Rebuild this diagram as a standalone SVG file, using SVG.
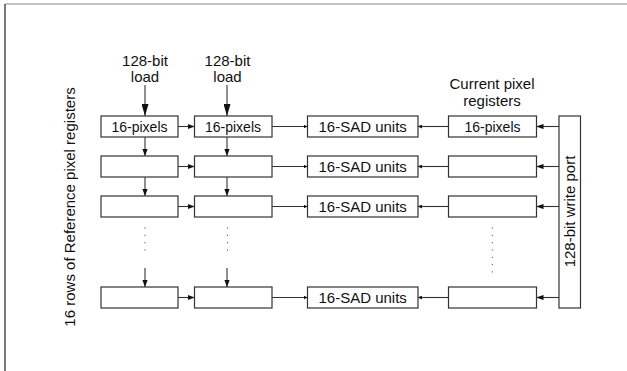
<svg xmlns="http://www.w3.org/2000/svg" width="627" height="371" viewBox="0 0 627 371">
<defs>
<style>
.box{fill:#fff;stroke:#333;stroke-width:1.2}
.ln{stroke:#333;stroke-width:1.1;fill:none}
.t{font-family:"Liberation Sans",Arial,sans-serif;font-size:15px;fill:#111;text-anchor:middle}
.t14{font-size:14px}
.dot{stroke:#555;stroke-width:1;stroke-dasharray:1.2 6.1;fill:none}
</style>
<marker id="big" markerUnits="userSpaceOnUse" markerWidth="12" markerHeight="7" refX="12" refY="3.5" orient="auto" viewBox="0 0 12 7">
<path d="M0,0 L12,3.5 L0,7 Z" fill="#111"/>
</marker>
<marker id="sm" markerUnits="userSpaceOnUse" markerWidth="7" markerHeight="5.2" refX="7" refY="2.6" orient="auto" viewBox="0 0 7 5.2">
<path d="M0,0 L7,2.6 L0,5.2 Z" fill="#111"/>
</marker>
<marker id="tiny" markerUnits="userSpaceOnUse" markerWidth="4" markerHeight="4" refX="4" refY="2" orient="auto" viewBox="0 0 4 4">
<path d="M0,0 L4,2 L0,4 Z" fill="#111"/>
</marker>
</defs>
<rect width="627" height="371" fill="#fff"/>
<line x1="5" y1="4" x2="627" y2="4" stroke="#888" stroke-width="1.2"/>
<line x1="5" y1="4" x2="5" y2="371" stroke="#222" stroke-width="1.2"/>

<g id="labels">
<text class="t" x="145" y="65.5">128-bit</text>
<text class="t" x="145" y="81.5">load</text>
<text class="t" x="227.5" y="65.5">128-bit</text>
<text class="t" x="227.5" y="81.5">load</text>
<text class="t" x="492" y="89">Current pixel</text>
<text class="t" x="492" y="105.5">registers</text>
<text class="t" transform="translate(75,207) rotate(-90)">16 rows of Reference pixel registers</text>
</g>

<g id="connectors">
<line class="ln" x1="145" y1="85" x2="145" y2="116" marker-end="url(#big)"/>
<line class="ln" x1="227" y1="85" x2="227" y2="116" marker-end="url(#big)"/>
<line class="ln" x1="145" y1="137" x2="145" y2="156" marker-end="url(#sm)"/>
<line class="ln" x1="227" y1="137" x2="227" y2="156" marker-end="url(#sm)"/>
<line class="ln" x1="145" y1="177" x2="145" y2="196" marker-end="url(#sm)"/>
<line class="ln" x1="227" y1="177" x2="227" y2="196" marker-end="url(#sm)"/>
<line class="ln" x1="145" y1="268" x2="145" y2="287" marker-end="url(#sm)"/>
<line class="ln" x1="227" y1="268" x2="227" y2="287" marker-end="url(#sm)"/>
<line class="dot" x1="145" y1="227.5" x2="145" y2="252"/>
<line class="dot" x1="227.5" y1="227.5" x2="227.5" y2="252"/>
<line class="dot" x1="492.3" y1="227.5" x2="492.3" y2="274"/>
<g id="row-arrows">
<line class="ln" x1="178" y1="126.5" x2="194.5" y2="126.5" marker-end="url(#sm)"/>
<line class="ln" x1="272" y1="126.5" x2="307.5" y2="126.5" marker-end="url(#tiny)"/>
<line class="ln" x1="448.5" y1="126.5" x2="418" y2="126.5" marker-end="url(#tiny)"/>
<line class="ln" x1="559" y1="126.5" x2="536.5" y2="126.5" marker-end="url(#sm)"/>
<line class="ln" x1="178" y1="166.5" x2="194.5" y2="166.5" marker-end="url(#sm)"/>
<line class="ln" x1="272" y1="166.5" x2="307.5" y2="166.5" marker-end="url(#tiny)"/>
<line class="ln" x1="448.5" y1="166.5" x2="418" y2="166.5" marker-end="url(#tiny)"/>
<line class="ln" x1="559" y1="166.5" x2="536.5" y2="166.5" marker-end="url(#sm)"/>
<line class="ln" x1="178" y1="206.5" x2="194.5" y2="206.5" marker-end="url(#sm)"/>
<line class="ln" x1="272" y1="206.5" x2="307.5" y2="206.5" marker-end="url(#tiny)"/>
<line class="ln" x1="448.5" y1="206.5" x2="418" y2="206.5" marker-end="url(#tiny)"/>
<line class="ln" x1="559" y1="206.5" x2="536.5" y2="206.5" marker-end="url(#sm)"/>
<line class="ln" x1="178" y1="297.5" x2="194.5" y2="297.5" marker-end="url(#sm)"/>
<line class="ln" x1="272" y1="297.5" x2="307.5" y2="297.5" marker-end="url(#tiny)"/>
<line class="ln" x1="448.5" y1="297.5" x2="418" y2="297.5" marker-end="url(#tiny)"/>
<line class="ln" x1="559" y1="297.5" x2="536.5" y2="297.5" marker-end="url(#sm)"/>
</g>
</g>

<g id="refA1"><rect class="box" x="101" y="116" width="77" height="21"/><text class="t t14" x="139.5" y="131.5">16-pixels</text></g>
<g id="refB1"><rect class="box" x="194.5" y="116" width="77.5" height="21"/><text class="t t14" x="233" y="131.5">16-pixels</text></g>
<g id="sad1"><rect class="box" x="307.5" y="116" width="110.5" height="21"/><text class="t" x="362.7" y="132">16-SAD units</text></g>
<g id="cur1"><rect class="box" x="448.5" y="116" width="88" height="21"/><text class="t t14" x="492.5" y="131.5">16-pixels</text></g>

<g id="refA2"><rect class="box" x="101" y="156" width="77" height="21"/></g>
<g id="refB2"><rect class="box" x="194.5" y="156" width="77.5" height="21"/></g>
<g id="sad2"><rect class="box" x="307.5" y="156" width="110.5" height="21"/><text class="t" x="362.7" y="172">16-SAD units</text></g>
<g id="cur2"><rect class="box" x="448.5" y="156" width="88" height="21"/></g>

<g id="refA3"><rect class="box" x="101" y="196" width="77" height="21"/></g>
<g id="refB3"><rect class="box" x="194.5" y="196" width="77.5" height="21"/></g>
<g id="sad3"><rect class="box" x="307.5" y="196" width="110.5" height="21"/><text class="t" x="362.7" y="212">16-SAD units</text></g>
<g id="cur3"><rect class="box" x="448.5" y="196" width="88" height="21"/></g>

<g id="refA16"><rect class="box" x="101" y="287" width="77" height="21"/></g>
<g id="refB16"><rect class="box" x="194.5" y="287" width="77.5" height="21"/></g>
<g id="sad16"><rect class="box" x="307.5" y="287" width="110.5" height="21"/><text class="t" x="362.7" y="303">16-SAD units</text></g>
<g id="cur16"><rect class="box" x="448.5" y="287" width="88" height="21"/></g>

<g id="writeport"><rect class="box" x="559" y="116" width="21.5" height="192"/><text class="t" transform="translate(575,211.5) rotate(-90)">128-bit write port</text></g>
</svg>
